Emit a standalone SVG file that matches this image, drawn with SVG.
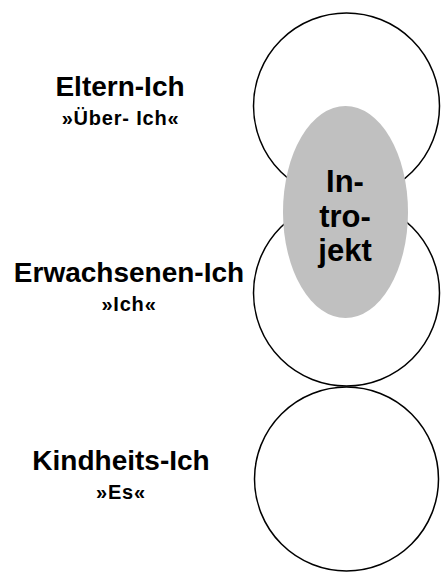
<svg xmlns="http://www.w3.org/2000/svg" width="441" height="572" viewBox="0 0 441 572">
<style>
.c{fill:none;stroke:#000;stroke-width:1.5}
.t{font-family:"Liberation Sans",Arial,sans-serif;font-weight:bold;fill:#000;text-anchor:middle}
.h{font-size:28px}
.s{font-size:20px;letter-spacing:0.8px}
.i{font-size:31px}
</style>
<rect width="441" height="572" fill="#fff"/>
<g id="eltern">
<circle class="c" cx="346.5" cy="106" r="93"/>
<text class="t h" x="120" y="96">Eltern-Ich</text>
<text class="t s" x="120.5" y="125">»Über- Ich«</text>
</g>
<g id="erwachsenen">
<circle class="c" cx="346.5" cy="293" r="93"/>
<text class="t h" x="129" y="282">Erwachsenen-Ich</text>
<text class="t s" x="129" y="311">»Ich«</text>
</g>
<g id="kindheits">
<circle class="c" cx="346.5" cy="479" r="92"/>
<text class="t h" x="121" y="470">Kindheits-Ich</text>
<text class="t s" x="121" y="499">»Es«</text>
</g>
<g id="introjekt">
<ellipse cx="345.5" cy="212" rx="62.5" ry="106" fill="#c0c0c0"/>
<text class="t i" x="345" y="192">In-</text>
<text class="t i" x="345" y="227">tro-</text>
<text class="t i" x="345" y="261">jekt</text>
</g>
<g id="connectors"/>
</svg>
